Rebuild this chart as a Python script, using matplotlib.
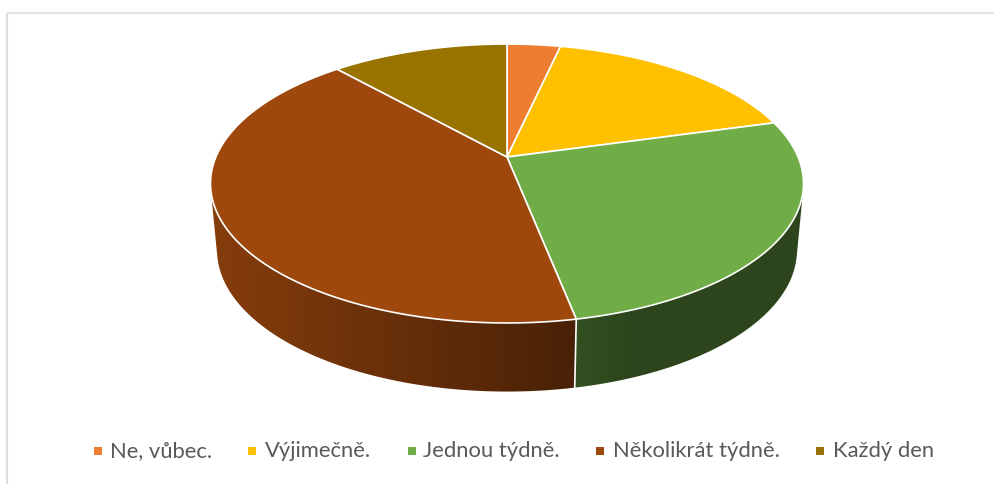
import numpy as np
import matplotlib
matplotlib.use('Agg')
import matplotlib.pyplot as plt
from matplotlib.patches import Polygon
from matplotlib.colors import to_rgb

# Shares of answers (percent)
labels = ['Ne, vůbec.', 'Výjimečně.', 'Jednou týdně.', 'Několikrát týdně.', 'Každý den']
values = [3.5, 17.2, 26.2, 41.5, 11.6]
colors = ['#ED7D31', '#FFC000', '#70AD47', '#9E480E', '#997300']

plt.rcParams['font.family'] = ['Lato', 'DejaVu Sans']

# Perspective of the pie's top face, in pixels
cx, cy = 507, 157
k, b, a = 0.19, -104.6, 291.1


def top_xy(theta):
    # theta runs clockwise from 12 o'clock
    u, v = np.sin(theta), np.cos(theta)
    return cx + a * u / (1 + k * v), (cy + b * v) / (1 + k * v)


def bottom_xy(theta):
    x, y = top_xy(theta)
    return cx + 0.978 * (x - cx), 250 + 1.015 * (y - 183.5)


def side_factor(color, x):
    # the rim gets darker to the right, then stays flat
    if color == '#70AD47':
        return np.interp(x, [577, 630, 803], [0.46, 0.40, 0.40])
    return np.interp(x, [210, 575], [0.85, 0.46])


def hull(points):
    # convex outline of a rim piece, so the tangent edges are covered too
    pts = sorted(set(points))
    def half(seq):
        out = []
        for p in seq:
            while len(out) > 1 and ((out[-1][0] - out[-2][0]) * (p[1] - out[-2][1])
                                    - (out[-1][1] - out[-2][1]) * (p[0] - out[-2][0])) <= 0:
                out.pop()
            out.append(p)
        return out[:-1]
    return half(pts) + half(pts[::-1])


fig = plt.figure(figsize=(9.94, 4.84), dpi=100)
ax = fig.add_axes([0, 0, 1, 1])
ax.axis('off')

edges = np.cumsum([0] + values) / sum(values) * 2 * np.pi

# Rim first, a horizontal gradient clipped to each front slice
for i in range(len(values)):
    t = np.linspace(edges[i], edges[i + 1], 300)
    t = t[np.cos(t) < 0.35]
    if len(t) < 2 or np.sin(t).min() > 0.9:
        continue
    xt, yt = top_xy(t)
    xb, yb = bottom_xy(t)
    outline = hull(list(zip(np.r_[xt, xb], np.r_[yt, yb])))
    xs = np.arange(205, 810)
    grad = np.ones((1, len(xs), 3)) * np.array(to_rgb(colors[i]))
    grad = grad * side_factor(colors[i], xs)[None, :, None]
    im = ax.imshow(grad, extent=(205, 810, 400, 100), aspect='auto', zorder=1,
                   interpolation='bilinear')
    clip = Polygon(outline, closed=True, transform=ax.transData, facecolor='none', edgecolor='none')
    ax.add_patch(clip)
    im.set_clip_path(clip)

    # white seam where two slices meet on the rim
    if np.cos(edges[i + 1]) < -0.5:
        xs_, ys_ = top_xy(edges[i + 1])
        xe_, ye_ = bottom_xy(edges[i + 1])
        ax.plot([xs_, xe_], [ys_, ye_], color='white', lw=1.2, zorder=2)

ax.set_xlim(0, 994)
ax.set_ylim(484, 0)

# Chart frame
ax.plot([7, 7], [484, 12.5], color='#DDDDDD', lw=1.6, solid_capstyle='butt')
ax.plot([7, 994], [12.5, 12.5], color='#E4E4E4', lw=1.6, solid_capstyle='butt')

# Top face
for i in range(len(values)):
    t = np.linspace(edges[i], edges[i + 1], 200)
    x, y = top_xy(t)
    ax.fill(np.r_[cx, x], np.r_[cy, y], facecolor=colors[i], edgecolor='white', lw=1.2,
            joinstyle='round', zorder=3)

# Legend
marker_x = [94, 248, 408, 596, 816]
text_x = [110, 265, 423, 613, 833]
for i in range(len(labels)):
    ax.fill([marker_x[i], marker_x[i] + 8, marker_x[i] + 8, marker_x[i]],
            [447, 447, 455, 455], color=colors[i], lw=0)
    ax.text(text_x[i], 457, labels[i], color='#595959', fontsize=15.8, va='baseline')

fig.savefig('out.png', dpi=100)
